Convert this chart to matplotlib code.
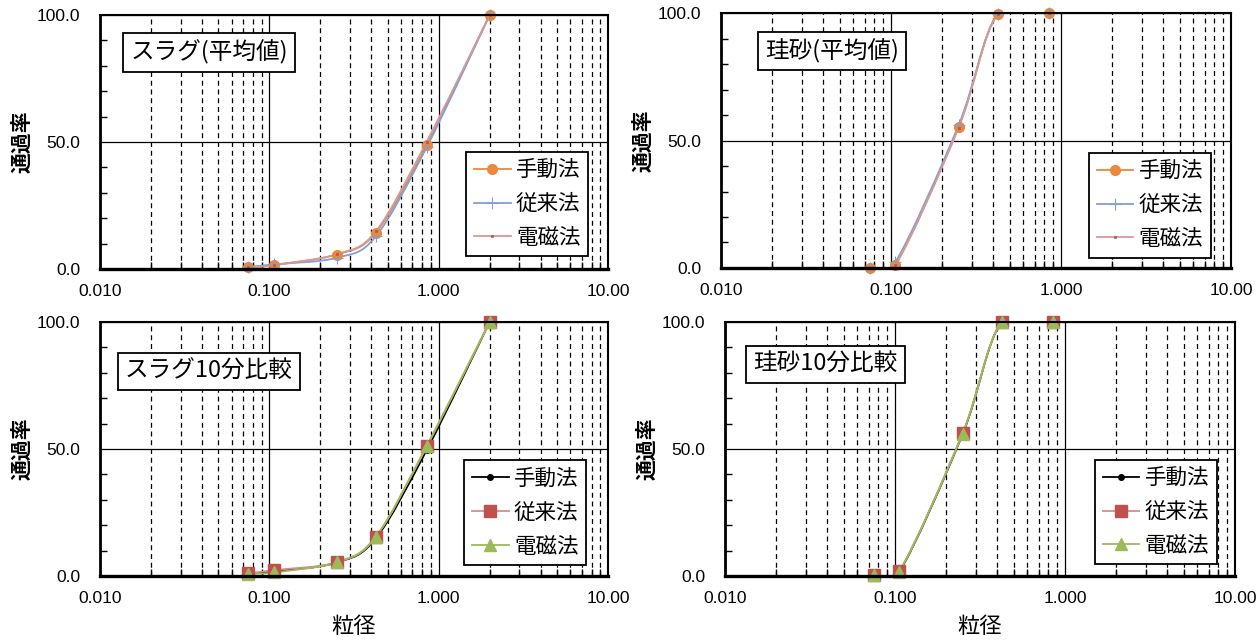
import numpy as np
import matplotlib
matplotlib.use("Agg")
import matplotlib.pyplot as plt
from matplotlib.path import Path
from matplotlib.patches import PathPatch
from matplotlib.lines import Line2D
from matplotlib.ticker import FixedLocator, NullFormatter

plt.rcParams['font.family'] = ['Noto Sans CJK JP', 'DejaVu Sans']

# sieve sizes (mm)
size_slag = [0.075, 0.106, 0.25, 0.425, 0.85, 2.0]
size_sand = [0.075, 0.106, 0.25, 0.425, 0.85]

methods = ['手動法', '従来法', '電磁法']

# スラグ（平均値）
slag_avg_manual = [0.6, 1.6, 5.7, 14.3, 48.8, 100.0]
slag_avg_conv = [0.8, 1.8, 4.4, 12.8, 48.0, 100.0]
slag_avg_em = [0.6, 1.5, 5.8, 14.8, 50.2, 100.0]

# 珪砂（平均値）
sand_avg_manual = [0.1, 1.0, 55.2, 99.6, 100.0]
sand_avg_conv = [0.1, 2.2, 56.0, 99.6, 100.0]
sand_avg_em = [0.1, 1.2, 55.0, 99.6, 100.0]

# スラグ10分比較
slag_10_manual = [0.9, 1.8, 5.3, 14.8, 49.6, 100.0]
slag_10_conv = [1.0, 2.3, 5.4, 15.3, 51.3, 100.0]
slag_10_em = [0.9, 1.4, 5.4, 15.5, 51.0, 100.0]

# 珪砂10分比較
sand_10_manual = [0.3, 1.5, 55.8, 100.0, 100.0]
sand_10_conv = [0.4, 1.9, 56.3, 100.0, 100.0]
sand_10_em = [0.3, 1.6, 56.0, 100.0, 100.0]

x_ticks = [0.01, 0.1, 1, 10]
x_ticklabels = ['0.010', '0.100', '1.000', '10.00']
y_ticks = [0, 50, 100]
y_ticklabels = ['0.0', '50.0', '100.0']

# styles: (line colour, marker, marker colour, marker size, mew)
style_avg = [('#E8893D', 'o', '#E8893D', 7, 1.0),
             ('#809FD8', '+', '#809FD8', 9, 0.8),
             ('#D49A97', 's', '#C0504D', 2.0, 0.5)]
style_10 = [('black', 'o', 'black', 4, 1.0),
            ('#D98B89', 's', '#C0504D', 8, 1.0),
            ('#9BBB59', '^', '#9BBB59', 9, 1.0)]


def smooth_path(x, y):
    # excel style smoothed line: bezier through the points in log-x space
    pts = np.column_stack([np.log10(x), y])
    n = len(pts)
    verts = [pts[0]]
    codes = [Path.MOVETO]
    for i in range(n - 1):
        p0 = pts[i - 1] if i > 0 else pts[i]
        p1 = pts[i]
        p2 = pts[i + 1]
        p3 = pts[i + 2] if i + 2 < n else pts[i + 1]
        verts += [p1 + (p2 - p0) / 6, p2 - (p3 - p1) / 6, p2]
        codes += [Path.CURVE4] * 3
    verts = np.array(verts)
    verts[:, 0] = 10 ** verts[:, 0]
    return Path(verts, codes)


def panel(ax, sizes, series, styles, title, title_xy, leg_xy, xlabel=False):
    ax.set_xscale('log')
    handles = []
    for vals, st, name in zip(series, styles, methods):
        lc, mk, mc, ms, mew = st
        ax.add_patch(PathPatch(smooth_path(sizes, vals), fill=False,
                               edgecolor=lc, lw=1.3, zorder=3))
        ax.plot(sizes, vals, ls='none', marker=mk, ms=ms, mfc=mc, mec=mc,
                mew=mew, zorder=4, clip_on=False)
        handles.append(Line2D([], [], color=lc, lw=1.3, marker=mk, ms=ms,
                              mfc=mc, mec=mc, mew=mew))
    ax.set_xlim(0.01, 10)
    ax.set_ylim(0, 100)
    ax.set_xticks(x_ticks)
    ax.set_xticklabels(x_ticklabels, fontfamily='Liberation Sans', fontsize=12.5)
    ax.set_yticks(y_ticks)
    ax.set_yticklabels(y_ticklabels, fontfamily='Liberation Sans', fontsize=12.5)
    minors = [m * 10.0 ** e for e in (-2, -1, 0) for m in range(2, 10)]
    ax.xaxis.set_minor_locator(FixedLocator(minors))
    ax.xaxis.set_minor_formatter(NullFormatter())
    ax.yaxis.set_minor_locator(FixedLocator(range(10, 100, 10)))
    ax.tick_params(which='major', length=0, pad=11)
    ax.tick_params(axis='y', which='major', pad=14)
    ax.tick_params(which='minor', direction='in', length=5, width=1,
                   color='black')
    ax.grid(which='major', color='black', lw=0.9)
    ax.grid(which='minor', axis='x', color='black', lw=0.9,
            ls=(0, (4, 3)))
    for s in ax.spines.values():
        s.set_linewidth(1.5)
        s.set_zorder(5)
    ax.spines['bottom'].set_linewidth(2.4)
    ax.spines['left'].set_linewidth(2.0)
    ax.set_ylabel('通過率', fontsize=15, fontweight='bold')
    ax.yaxis.set_label_coords(-0.133, 0.5)
    if xlabel:
        ax.set_xlabel('粒径', fontsize=16)
        ax.xaxis.set_label_coords(0.5, -0.2)
        ax.xaxis.label.set_va('center')
    ax.text(title_xy[0], title_xy[1], title, transform=ax.transAxes,
            fontsize=17, ha='center', va='center', zorder=6,
            bbox=dict(boxstyle='square,pad=0.3', fc='white', ec='black',
                      lw=1.3))
    leg = ax.legend(handles, methods, loc='upper right',
                    bbox_to_anchor=leg_xy, fontsize=15.5, frameon=True,
                    fancybox=False, edgecolor='black', framealpha=1,
                    borderaxespad=0, handlelength=1.7, handletextpad=0.25,
                    labelspacing=0.55, borderpad=0.35)
    leg.get_frame().set_linewidth(1.3)
    leg.set_zorder(6)


fig = plt.figure(figsize=(12.56, 6.42), dpi=100)
ax1 = fig.add_axes([0.0796, 0.581, 0.4045, 0.3956])
ax2 = fig.add_axes([0.574, 0.5826, 0.406, 0.397])
ax3 = fig.add_axes([0.0796, 0.1028, 0.4045, 0.3956])
ax4 = fig.add_axes([0.5772, 0.1028, 0.406, 0.3956])

panel(ax1, size_slag, [slag_avg_manual, slag_avg_conv, slag_avg_em],
      style_avg, 'スラグ(平均値)', (0.2146, 0.852), (0.9606, 0.462))
panel(ax2, size_sand, [sand_avg_manual, sand_avg_conv, sand_avg_em],
      style_avg, '珪砂(平均値)', (0.2176, 0.851), (0.9608, 0.452))
panel(ax3, size_slag, [slag_10_manual, slag_10_conv, slag_10_em],
      style_10, 'スラグ10分比較', (0.2146, 0.805), (0.9567, 0.455), True)
panel(ax4, size_sand, [sand_10_manual, sand_10_conv, sand_10_em],
      style_10, '珪砂10分比較', (0.197, 0.833), (0.9647, 0.458), True)

fig.savefig('out.png', dpi=100)
